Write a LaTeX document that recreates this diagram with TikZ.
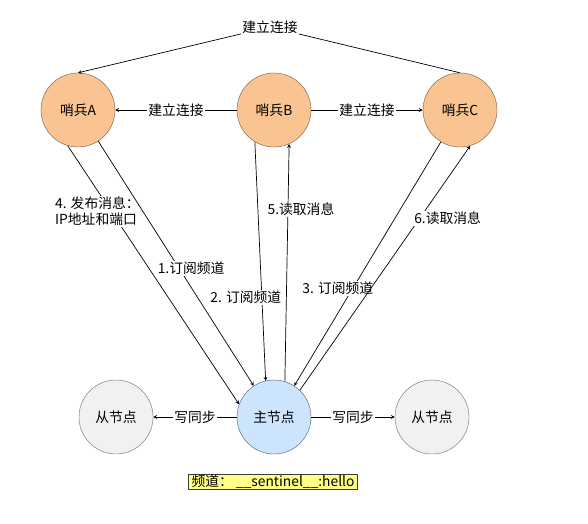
\documentclass[tikz,border=0pt]{standalone}
\usepackage{fontspec}
\setmainfont{Noto Sans CJK SC}
\usepackage{xcolor}
\usepackage{tikz}
\usetikzlibrary{calc}
\usetikzlibrary{positioning}
\definecolor{sentfill}{RGB}{249,196,146}
\definecolor{sentline}{RGB}{110,90,70}
\definecolor{mainfill}{RGB}{204,228,252}
\definecolor{mainline}{RGB}{80,90,110}
\definecolor{slavefill}{RGB}{241,241,241}
\definecolor{slaveline}{RGB}{110,110,110}
\definecolor{chanfill}{RGB}{255,255,136}
\definecolor{chanline}{RGB}{60,60,60}
\begin{document}
\begin{tikzpicture}[x=1pt,y=-1pt,
	every node/.style={font=\fontsize{13.8}{16}\selectfont},
	sentinel/.style={circle,draw=sentline,fill=sentfill,minimum size=74pt,inner sep=0pt},
	master/.style={circle,draw=mainline,fill=mainfill,minimum size=74pt,inner sep=0pt},
	slave/.style={circle,draw=slaveline,fill=slavefill,minimum size=74pt,inner sep=0pt},
	lbl/.style={fill=white,inner sep=1pt},
	conn/.style={->,>=stealth,line width=0.7pt}]
		  \useasboundingbox (0,0) rectangle (588,523);
		  \foreach \x /\alph/\name in {
		  		78/sa/哨兵A,
		  		274/sb/哨兵B,
		  		460/sc/哨兵C
		  }{
		  	\node[sentinel] (\alph) at (\x,110) {\name};
		  }
		  \node[master] (main) at (274,417) {主节点};
		  \node[slave] (sl) at (116,417) {从节点};
		  \node[slave] (sr) at (432,417) {从节点};
		  \node[lbl] (top) at (270,27) {建立连接};
		  \node[draw=chanline,fill=chanfill,inner xsep=3pt,inner ysep=1pt,line width=0.7pt] (chan) at (273,482) {频道： \_\_sentinel\_\_:hello};
		  \draw[conn] (sc.north) -- (top) -- (sa.north);
		  \draw[conn] (sb) -- node[lbl] {建立连接} (sa);
		  \draw[conn] (sb) -- node[lbl] {建立连接} (sc);
		  \draw[conn] (main) -- node[lbl] {写同步} (sl);
		  \draw[conn] (main) -- node[lbl] {写同步} (sr);
		  \draw[conn] (sa.254) -- node[lbl,pos=.255,xshift=-14pt,align=left] {4. 发布消息：\\IP地址和端口} (main.160);
		  \draw[conn] (sa.303) -- node[lbl,pos=.52,xshift=12pt] {1.订阅频道} (main.123);
		  \draw[conn] (sb.239) -- node[lbl,pos=.65,xshift=-16pt] {2. 订阅频道} (main.103);
		  \draw[conn] (main.73) -- node[lbl,pos=.724,xshift=13pt] {5.读取消息} (sb.294);
		  \draw[conn] (sc.239) -- node[lbl,pos=.6,xshift=-15pt] {3. 订阅频道} (main.57);
		  \draw[conn] (main.46) -- node[lbl,pos=.703,xshift=28pt] {6.读取消息} (sc.286);
		 \end{tikzpicture}
\end{document}
